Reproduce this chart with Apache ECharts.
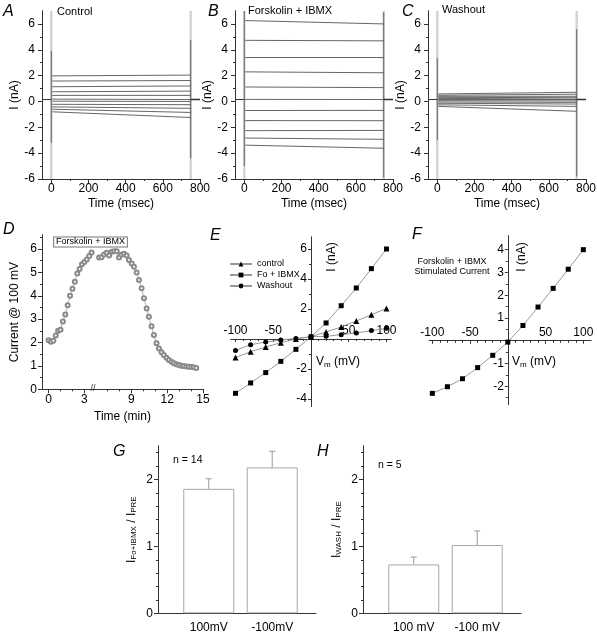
<!DOCTYPE html>
<html><head><meta charset="utf-8">
<script src="https://cdn.jsdelivr.net/npm/echarts@6/dist/echarts.min.js"></script>
<style>html,body{margin:0;padding:0;background:#fff}#c{width:597px;height:635px}</style>
</head><body><div id="c"></div>
<script>
// ================= DATA =================
// A–C: whole-cell current traces, one per voltage step (+100 … −100 mV, 20 mV steps)
const stepTimes = [5, 750];                 // msec: start / end of each step
const ctrlStart = [1.98, 1.58, 1.14, 0.75, 0.47, 0.18, 0.02, -0.22, -0.42, -0.6, -0.8];
const ctrlEnd   = [2.04, 1.62, 1.2, 0.8, 0.47, 0.15, 0.0, -0.25, -0.53, -0.85, -1.24];
const foStart   = [6.26, 4.73, 3.4, 2.29, 1.12, 0.16, -0.7, -1.48, -2.26, -2.83, -3.38];
const foEnd     = [6.0, 4.69, 3.4, 2.22, 1.07, 0.15, -0.69, -1.49, -2.24, -2.93, -3.62];
const washStart = [0.58, 0.48, 0.4, 0.32, 0.24, 0.15, 0.06, -0.04, -0.14, -0.26, -0.38];
const washEnd   = [0.71, 0.56, 0.4, 0.29, 0.18, 0.15, 0.04, -0.07, -0.2, -0.38, -0.76];
const holdPreTimes  = [-45, 0];
const holdPostTimes = [750, 800];
const holdCurrent = 0.15;
// capacitive transients [time, top, bottom] (nA)
const ctrlTransients = [[0, 3.9, -3.2], [750, 4.75, -4.4]];
const foTransients   = [[0, 7, -5.0], [750, 6.9, -5.9]];
const washTransients = [[0, 3.35, -3.0], [750, 5.6, -5.8]];
const transientBand  = [-6, 7];

// D: current at +100 mV vs time (min)
const dTimesBefore   = [0, 0.2, 0.4, 0.6, 0.8, 1.0, 1.2, 1.4, 1.6, 1.8, 2.0, 2.2, 2.4, 2.6, 2.8, 3.0, 3.2, 3.4, 3.6];
const dCurrentBefore = [2.1, 2.03, 2.08, 2.3, 2.5, 2.55, 2.9, 3.2, 3.6, 4.0, 4.3, 4.6, 4.95, 5.15, 5.35, 5.45, 5.55, 5.7, 5.85];
const dTimesAfter    = [6.3, 6.5, 6.72, 6.94, 7.14, 7.36, 7.56, 7.78, 7.97, 8.17, 8.39, 8.61, 8.8, 9.03, 9.22, 9.44, 9.64, 9.86, 10.06, 10.28, 10.47, 10.69, 10.89, 11.11, 11.31, 11.53, 11.72, 11.94, 12.14, 12.36, 12.56, 12.78, 12.97, 13.19, 13.39, 13.61, 13.81, 14.03, 14.22, 14.44];
const dCurrentAfter  = [5.64, 5.65, 5.77, 5.84, 5.72, 5.88, 5.9, 5.9, 5.64, 5.75, 5.8, 5.72, 5.53, 5.38, 5.24, 5.0, 4.67, 4.32, 3.89, 3.46, 3.1, 2.7, 2.32, 1.97, 1.75, 1.58, 1.47, 1.35, 1.25, 1.18, 1.11, 1.07, 1.04, 1.01, 1.0, 0.97, 0.96, 0.95, 0.94, 0.91];
const dBreak = [3.75, 5.9];

// E, F: I–V relations
const vm        = [-100, -80, -60, -40, -20, 0, 20, 40, 60, 80, 100];
const controlIV = [-1.24, -0.85, -0.53, -0.25, 0.0, 0.15, 0.47, 0.8, 1.2, 1.62, 2.04];
const foIV      = [-3.62, -2.93, -2.24, -1.49, -0.69, 0.15, 1.07, 2.22, 3.4, 4.69, 6.0];
const washIV    = [-0.76, -0.38, -0.2, -0.07, 0.04, 0.15, 0.18, 0.29, 0.4, 0.56, 0.71];
const stimIV    = [-2.31, -2.02, -1.67, -1.18, -0.64, -0.06, 0.67, 1.48, 2.3, 3.14, 4.0];
const ivNames   = ['control', 'Fo + IBMX', 'Washout'];

// G, H: normalised currents
const gCats = ['100mV', '-100mV'];
const gMeans = [1.86, 2.18];
const gErr = [0.15, 0.24];
const hCats = ['100 mV', '-100 mV'];
const hMeans = [0.73, 1.02];
const hErr = [0.11, 0.21];

// ticks
const traceTimeTicks = [0, 200, 400, 600, 800];
const traceTimeMinor = [100, 300, 500, 700];
const traceIMajor = [-6, -4, -2, 0, 2, 4, 6];
const traceIMinor = [-5, -3, -1, 1, 3, 5];
const dTimeTicks = [0, 3, 9, 12, 15];
const dTimeMinor = [1, 2, 7, 8, 10, 11, 13, 14];
const dIMajor = [0, 1, 2, 3, 4, 5, 6];
const dIMinor = [0.5, 1.5, 2.5, 3.5, 4.5, 5.5, 6.5];
const vmTicks = [-100, -50, 50, 100];
const vmMinor = [-90, -80, -70, -60, -40, -30, -20, -10, 10, 20, 30, 40, 60, 70, 80, 90];
const eIMajor = [-4, -2, 2, 4, 6];
const eIMinor = [-3, -1, 1, 3, 5];
const fIMajor = [-2, -1, 1, 2, 3, 4];
const fIMinor = [-2.5, -1.5, -0.5, 0.5, 1.5, 2.5, 3.5];
const ratioMajor = [0, 1, 2];
const ratioMinor = [0.2, 0.4, 0.6, 0.8, 1.2, 1.4, 1.6, 1.8, 2.2, 2.4];

// ================= CHART =================
const FONT = '"Liberation Sans", Arial, Helvetica, sans-serif';
const AX = '#333';
const grids = [], xAxes = [], yAxes = [], series = [], graphics = [];

function addGrid(left, top, width, height) {
  grids.push({ left, top, width, height, containLabel: false, outerBoundsMode: 'none' });
  return grids.length - 1;
}
// o.offset: move the axis inward so that it crosses the other axis at zero (crossing-axes panels)
function addAxis(list, gi, dim, o) {
  const pos = dim === 'x' ? 'bottom' : 'left';
  const base = { type: 'value', gridIndex: gi, position: pos, min: o.min, max: o.max, offset: o.offset || 0, splitLine: { show: false } };
  if (o.breaks) { base.breaks = o.breaks; base.breakArea = { show: false }; }
  const major = Object.assign({}, base, {
    axisLine: { show: true, onZero: false, lineStyle: { color: AX, width: 1 } },
    axisTick: o.ticks ? { show: true, customValues: o.ticks, length: o.tickLen || 4, lineStyle: { color: AX } } : { show: false },
    axisLabel: o.labels ? { show: true, customValues: o.labels, inside: !!o.inside, margin: o.margin == null ? 6 : o.margin,
      fontSize: o.fontSize || 12, color: '#000', fontFamily: FONT } : { show: false }
  });
  if (o.formatter) major.axisLabel.formatter = o.formatter;
  if (o.name) {
    major.name = o.name; major.nameLocation = 'middle'; major.nameGap = o.nameGap;
    major.nameTextStyle = Object.assign({ fontSize: 12, color: '#000', fontFamily: FONT }, o.nameStyle || {});
  }
  list.push(major);
  const idx = list.length - 1;
  if (o.minor) {
    list.push(Object.assign({}, base, {
      axisLine: { show: true, onZero: false, lineStyle: { color: AX, width: 1 } },
      axisTick: { show: true, customValues: o.minor, length: 2, lineStyle: { color: AX } },
      axisLabel: { show: false }
    }));
  }
  return idx;
}
function T(x, y, text, o) {
  o = o || {};
  return { type: 'text', x, y, rotation: o.rot || 0, silent: true, z: 100,
    style: Object.assign({ text, fill: '#000', fontFamily: FONT, fontSize: o.size || 11,
      fontStyle: o.italic ? 'italic' : 'normal', align: o.align || 'left', verticalAlign: 'middle' }, o.style || {}) };
}
const subRich = { a: { fontSize: 12, fontFamily: FONT, color: '#000' }, b: { fontSize: 8, fontFamily: FONT, color: '#000', padding: [5, 0, 0, 0] } };

// ---- A, B, C : current traces ----
const traceSets = [
  { left: 42, start: ctrlStart, end: ctrlEnd, tr: ctrlTransients, gap: 21 },
  { left: 235, start: foStart, end: foEnd, tr: foTransients, gap: 12 },
  { left: 428, start: washStart, end: washEnd, tr: washTransients, gap: 8 }
];
traceSets.forEach(ts => {
  const gi = addGrid(ts.left, 11, 158, 168);
  const xi = addAxis(xAxes, gi, 'x', { min: -50, max: 800, ticks: traceTimeTicks, labels: traceTimeTicks, minor: traceTimeMinor, margin: 4,
    name: 'Time (msec)', nameGap: 19 });
  const yi = addAxis(yAxes, gi, 'y', { min: -6, max: 7, ticks: traceIMajor, labels: traceIMajor, minor: traceIMinor, margin: 7,
    name: 'I (nA)', nameGap: ts.gap });
  const common = { type: 'line', xAxisIndex: xi, yAxisIndex: yi, showSymbol: false, symbol: 'none', silent: true, animation: false };
  ts.tr.forEach(t => {
    series.push(Object.assign({}, common, { data: [[t[0], transientBand[0]], [t[0], transientBand[1]]], lineStyle: { color: '#d4d4d4', width: 2.5 }, z: 1 }));
    series.push(Object.assign({}, common, { data: [[t[0], t[1]], [t[0], t[2]]], lineStyle: { color: '#666', width: 1 }, z: 2 }));
  });
  series.push(Object.assign({}, common, { data: holdPreTimes.map(t => [t, holdCurrent]), lineStyle: { color: '#333', width: 1 }, z: 3 }));
  series.push(Object.assign({}, common, { data: holdPostTimes.map(t => [t, holdCurrent]), lineStyle: { color: '#333', width: 1.3 }, z: 3 }));
  ts.start.forEach((s, i) => {
    series.push(Object.assign({}, common, { data: [[stepTimes[0], s], [stepTimes[1], ts.end[i]]], lineStyle: { color: '#555', width: 0.9 }, z: 3 }));
  });
});

// ---- D : time course ----
{
  const gi = addGrid(42, 235, 161, 154.3);
  const brk = [{ start: dBreak[0], end: dBreak[1], gap: '0.6%' }];
  const xi = addAxis(xAxes, gi, 'x', { min: -0.55, max: 15, breaks: brk, ticks: dTimeTicks, labels: dTimeTicks, minor: dTimeMinor, margin: 4,
    name: 'Time (min)', nameGap: 21 });
  const yi = addAxis(yAxes, gi, 'y', { min: 0, max: 6.6, ticks: dIMajor, labels: dIMajor, minor: dIMinor, margin: 5,
    name: 'Current @ 100 mV', nameGap: 21 });
  const common = { type: 'line', xAxisIndex: xi, yAxisIndex: yi, symbol: 'emptyCircle', symbolSize: 4, animation: false,
    itemStyle: { color: '#8a8a8a', borderWidth: 0.8 }, lineStyle: { color: '#a0a0a0', width: 0.8 } };
  series.push(Object.assign({}, common, { data: dTimesBefore.map((t, i) => [t, dCurrentBefore[i]]) }));
  series.push(Object.assign({}, common, { data: dTimesAfter.map((t, i) => [t, dCurrentAfter[i]]) }));
  graphics.push(T(93, 389, '//', { size: 9, align: 'center', style: { fill: '#333' } }));
  graphics.push(T(90.5, 242, 'Forskolin + IBMX', { size: 9, align: 'center',
    style: { borderColor: '#777', borderWidth: 1, padding: [0, 2, 0, 2], backgroundColor: '#fff', lineHeight: 9 } }));
}

// crossing-axis panel (E, F): axes cross at the origin
function ivPanel(box, xr, yr, yMajor, yMinor) {
  const gi = addGrid(box[0], box[1], box[2], box[3]);
  const yOff = -(0 - xr[0]) / (xr[1] - xr[0]) * box[2];   // move y axis to V = 0
  const xOff = -(0 - yr[0]) / (yr[1] - yr[0]) * box[3];   // move x axis to I = 0
  const xi = addAxis(xAxes, gi, 'x', { min: xr[0], max: xr[1], offset: xOff, ticks: vmTicks, tickLen: 3, minor: vmMinor,
    labels: vmTicks, inside: true, margin: 2 });
  const yi = addAxis(yAxes, gi, 'y', { min: yr[0], max: yr[1], offset: yOff, ticks: yMajor, tickLen: 3, minor: yMinor,
    labels: yMajor, margin: 4 });
  return [xi, yi];
}

// ---- E : I–V ----
{
  const [xi, yi] = ivPanel([231, 237, 160, 169.5], [-106, 106], [-4.5, 6.8], eIMajor, eIMinor);
  const syms = ['triangle', 'rect', 'circle'];
  const sizes = [6, 5, 5];
  [controlIV, foIV, washIV].forEach((arr, k) => {
    series.push({ type: 'line', name: ivNames[k], xAxisIndex: xi, yAxisIndex: yi, symbol: syms[k], symbolSize: sizes[k], animation: false,
      data: vm.map((v, i) => [v, arr[i]]), itemStyle: { color: '#000' }, lineStyle: { color: '#999', width: 1 }, z: 5 });
  });
  graphics.push(T(332, 257, 'I (nA)', { size: 12, align: 'center', rot: Math.PI / 2 }));
  graphics.push(T(316, 362, '{a|V}{b|m}{a| (mV)}', { style: { rich: subRich } }));
}

// ---- F : stimulated current ----
{
  const [xi, yi] = ivPanel([429.3, 236, 161.6, 168.5], [-104, 110], [-2.8, 4.6], fIMajor, fIMinor);
  series.push({ type: 'line', xAxisIndex: xi, yAxisIndex: yi, symbol: 'rect', symbolSize: 5, animation: false,
    data: vm.map((v, i) => [v, stimIV[i]]), itemStyle: { color: '#000' }, lineStyle: { color: '#999', width: 1 }, z: 5 });
  graphics.push(T(522, 257, 'I (nA)', { size: 12, align: 'center', rot: Math.PI / 2 }));
  graphics.push(T(512, 362, '{a|V}{b|m}{a| (mV)}', { style: { rich: subRich } }));
  graphics.push(T(452, 262, 'Forskolin + IBMX', { size: 9, align: 'center' }));
  graphics.push(T(452, 272, 'Stimulated Current', { size: 9, align: 'center' }));
}

// ---- G, H : bar charts ----
function barPanel(left, cats, means, errs, nameRich) {
  const gi = addGrid(left, 446, 158, 167.3);
  const xi = addAxis(xAxes, gi, 'x', { min: 0.2, max: 2.69, labels: [1, 2], margin: 8, fontSize: 12,
    formatter: v => cats[Math.round(v) - 1] });
  const yi = addAxis(yAxes, gi, 'y', { min: 0, max: 2.5, ticks: ratioMajor, labels: ratioMajor, minor: ratioMinor, margin: 5,
    name: nameRich, nameGap: 20, nameStyle: { rich: subRich } });
  series.push({ type: 'bar', xAxisIndex: xi, yAxisIndex: yi, barWidth: 51, animation: false,
    data: means.map((m, i) => [i + 1, m]), itemStyle: { color: '#fff', borderColor: '#a8a8a8', borderWidth: 1 } });
  series.push({ type: 'custom', xAxisIndex: xi, yAxisIndex: yi, animation: false, z: 3,
    data: means.map((m, i) => [i + 1, m, m + errs[i]]), encode: { x: 0, y: [1, 2] },
    renderItem: function (params, api) {
      const p0 = api.coord([api.value(0), api.value(1)]);
      const p1 = api.coord([api.value(0), api.value(2)]);
      return { type: 'group', children: [
        { type: 'line', shape: { x1: p0[0], y1: p0[1], x2: p1[0], y2: p1[1] }, style: { stroke: '#999', lineWidth: 1 } },
        { type: 'line', shape: { x1: p1[0] - 3, y1: p1[1], x2: p1[0] + 3, y2: p1[1] }, style: { stroke: '#999', lineWidth: 1 } }
      ] };
    } });
}
barPanel(158, gCats, gMeans, gErr, '{a|I}{b|Fo+IBMX}{a| / I}{b|PRE}');
barPanel(363, hCats, hMeans, hErr, '{a|I}{b|WASH}{a| / I}{b|PRE}');
graphics.push(T(173, 460, 'n = 14', { size: 10.5 }));
graphics.push(T(378, 465, 'n = 5', { size: 10.5 }));

// ---- annotations & panel letters ----
graphics.push(T(57, 12, 'Control', { size: 11 }));
graphics.push(T(248, 11, 'Forskolin + IBMX', { size: 11 }));
graphics.push(T(442, 10, 'Washout', { size: 11 }));
[['A', 3, 12], ['B', 208, 12], ['C', 402, 12], ['D', 3, 230], ['E', 210, 236], ['F', 412, 235], ['G', 113, 452], ['H', 317, 452]]
  .forEach(p => graphics.push(T(p[1], p[2], p[0], { size: 16, italic: true })));

const chart = echarts.init(document.getElementById('c'));
chart.setOption({
  animation: false,
  backgroundColor: '#fff',
  textStyle: { fontFamily: FONT },
  grid: grids, xAxis: xAxes, yAxis: yAxes, series: series,
  legend: { data: ivNames, orient: 'vertical', left: 229, top: 259, itemWidth: 22, itemHeight: 6, itemGap: 1, padding: 0,
    textStyle: { fontSize: 9, color: '#000', fontFamily: FONT, lineHeight: 10 }, selectedMode: false },
  graphic: graphics
});
</script>
</body></html>
